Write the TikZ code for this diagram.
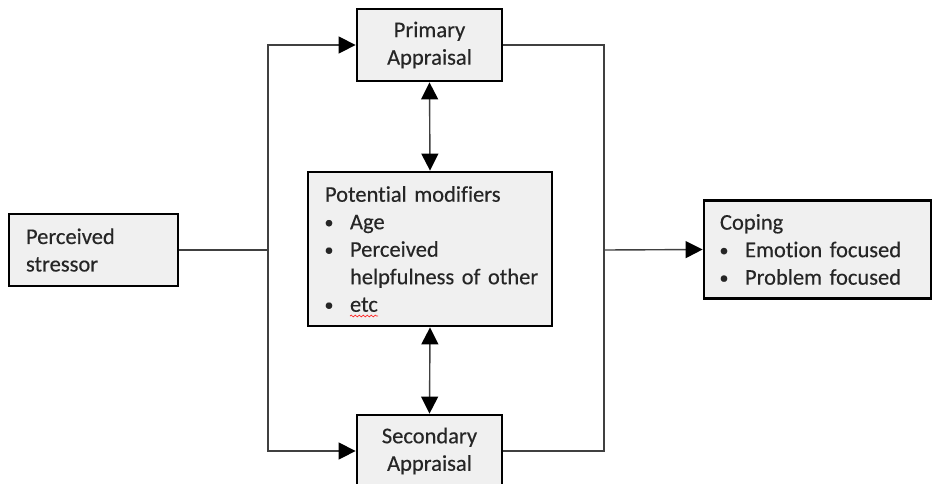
\documentclass[tikz,border=0pt]{standalone}
\usepackage{fontspec}
\usepackage{graphicx}
\setmainfont{Carlito}[Ligatures=NoCommon, FakeBold=0.35, WordSpace=0.7]
\usetikzlibrary{arrows.meta,decorations.pathmorphing}

\newcommand{\bitem}[1]{\makebox[25pt][l]{\hspace{-0.5pt}\raisebox{1pt}{\scalebox{0.8}{\textbullet}}}\mbox{#1}}
\newcommand{\bcont}[1]{\hspace*{25pt}\mbox{#1}}

\tikzset{
  box/.style={draw=black, line width=2.8pt, fill=gray!12, inner sep=0pt,
    font=\fontsize{22.5}{27.5}\selectfont, text=black!85},
  conn/.style={draw=black!75, line width=1.4pt},
  arr/.style={conn, -{Triangle[length=17pt,width=17pt,color=black]}},
  darr/.style={conn, {Triangle[length=17pt,width=17pt,color=black]}-{Triangle[length=17pt,width=17pt,color=black]}},
}

\begin{document}
\begin{tikzpicture}[x=1pt,y=-1pt]
  \useasboundingbox (0,0) rectangle (936,483);
  \clip (0,0) rectangle (936,483);

  % boxes
  \node[box, minimum width=169, minimum height=72, text width=135, align=left]
    (stress) at (93.5,250) {Perceived\\stressor};
  \node[box, minimum width=145, minimum height=72, align=center]
    (prim) at (429.5,45) {Primary\\Appraisal};
  \node[box, minimum width=145, minimum height=72, align=center]
    (sec) at (429.5,451) {Secondary\\Appraisal};
  \node[box, minimum width=244, minimum height=154, text width=210, align=left]
    (mods) at (430,249) {Potential modifiers\\\bitem{Age}\\\bitem{Perceived}\\\bcont{helpfulness of other}\\\bitem{etc}};
  \node[box, minimum width=227, minimum height=98, text width=195, align=left]
    (cope) at (817.5,249.5) {Coping\\\bitem{Emotion focused}\\\bitem{Problem focused}};

  % junction points of the two vertical rails
  \coordinate (jl) at (268,250);
  \coordinate (jr) at (604,250);

  % connectors
  \draw[conn] (stress.east) -- (jl);
  \draw[arr] (jl) |- (prim.west);
  \draw[arr] (jl) |- (sec.west);
  \draw[conn] (prim.east) -| (jr);
  \draw[conn] (sec.east) -| (jr);
  \draw[arr] (jr) -- (cope.west);
  \draw[darr] (prim.south) -- (mods.north);
  \draw[darr] (mods.south) -- (sec.north);

  % spell-check squiggle under "etc"
  \draw[red!85, line width=0.7pt, decorate,
        decoration={snake, amplitude=0.9pt, segment length=4pt}]
    (350,316) -- (378,316);
\end{tikzpicture}
\end{document}
